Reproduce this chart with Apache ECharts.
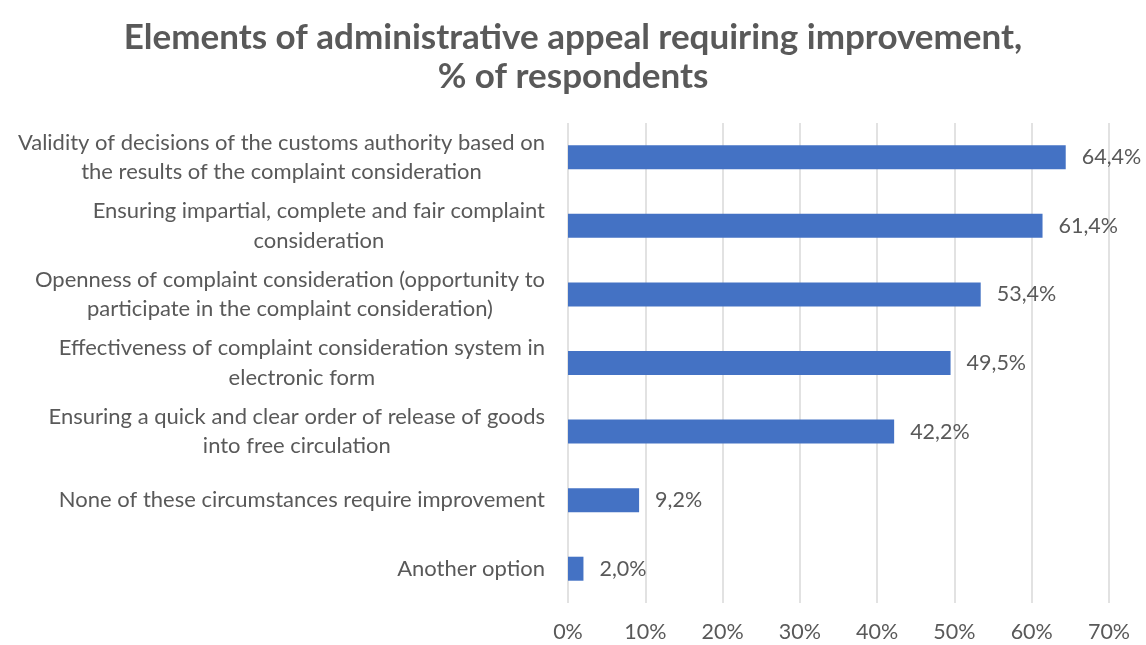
<!DOCTYPE html>
<html>
<head>
<meta charset="utf-8">
<script src="https://cdn.jsdelivr.net/npm/echarts@6/dist/echarts.min.js"></script>
<style>
html,body{margin:0;padding:0;background:#fff;}
#chart{width:1146px;height:645px;}
</style>
</head>
<body>
<div id="chart"></div>
<script>
// Survey answers, listed top to bottom
const categories = [
  "Validity of decisions of the customs authority based on\nthe results of the complaint consideration",
  "Ensuring impartial, complete and fair complaint\nconsideration",
  "Openness of complaint consideration (opportunity to\nparticipate in the complaint consideration)",
  "Effectiveness of complaint consideration system in\nelectronic form",
  "Ensuring a quick and clear order of release of goods\ninto free circulation",
  "None of these circumstances require improvement",
  "Another option"
];
const shares = [64.4, 61.4, 53.4, 49.5, 42.2, 9.2, 2.0];
const axisTicks = [0, 10, 20, 30, 40, 50, 60, 70];

const FONT = "Lato";
const TEXT = "#595959";

const chart = echarts.init(document.getElementById("chart"));
chart.setOption({
  backgroundColor: "#fff",
  animation: false,
  title: {
    text: "Elements of administrative appeal requiring improvement,\n% of respondents",
    left: "center",
    top: 13,
    textStyle: {
      fontFamily: FONT,
      fontWeight: "bold",
      fontSize: 35,
      lineHeight: 39,
      color: TEXT
    }
  },
  grid: { left: 568, right: 37, top: 123, bottom: 42 },
  xAxis: {
    type: "value",
    min: axisTicks[0],
    max: axisTicks[axisTicks.length - 1],
    interval: 10,
    axisLine: { show: false },
    axisTick: { show: false },
    splitLine: { show: true, lineStyle: { color: "#D9D9D9", width: 1.5 } },
    axisLabel: {
      margin: 18,
      fontFamily: FONT,
      fontSize: 21.5,
      color: TEXT,
      formatter: v => v + "%"
    }
  },
  yAxis: {
    type: "category",
    inverse: true,
    data: categories,
    axisLine: { show: false },
    axisTick: { show: false },
    axisLabel: {
      margin: 23,
      align: "right",
      fontFamily: FONT,
      fontSize: 22,
      color: TEXT,
      formatter: v => v.split("\n").map(l => "{c|" + l + "}").join("\n"),
      rich: {
        c: { align: "center", fontFamily: FONT, fontSize: 22, lineHeight: 29.5, color: TEXT }
      }
    }
  },
  series: [{
    type: "bar",
    data: shares,
    barWidth: 24,
    itemStyle: { color: "#4472C4" },
    label: {
      show: true,
      position: "right",
      distance: 16,
      fontFamily: FONT,
      fontSize: 21.5,
      color: TEXT,
      formatter: p => p.value.toFixed(1).replace(".", ",") + "%"
    }
  }]
});
</script>
</body>
</html>
